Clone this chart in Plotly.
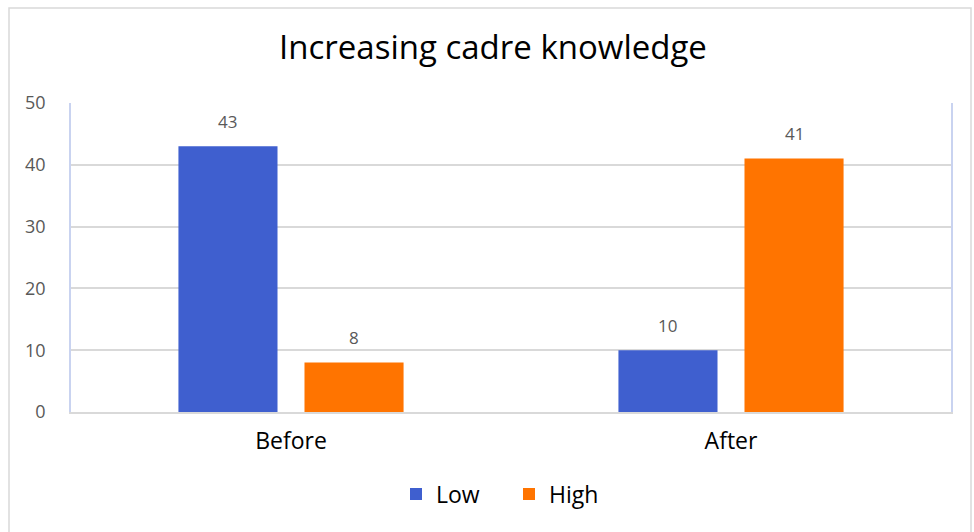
import plotly.graph_objects as go

categories = ["Before", "After"]
low_values = [43, 10]
high_values = [8, 41]
series_names = ["Low", "High"]
y_ticks = [0, 10, 20, 30, 40, 50]

W, H = 974, 532
L, R, T, B = 71, 23, 103, 120
pw, ph = W - L - R, H - T - B

BAR_GAP = 0.427
GROUP_GAP = 0.214
slot_px = pw / len(categories) * (1 - BAR_GAP) / 2

FONT = "Open Sans"

fig = go.Figure()
fig.add_trace(go.Bar(x=categories, y=low_values, name=series_names[0],
                     marker=dict(color="#3F5FCF", line=dict(width=0))))
fig.add_trace(go.Bar(x=categories, y=high_values, name=series_names[1],
                     marker=dict(color="#FF7400", line=dict(width=0))))

# data labels above bars
for offs, vals in ((-0.5, low_values), (0.5, high_values)):
    for c, v in zip(categories, vals):
        fig.add_annotation(x=c, y=v, xref="x", yref="y", text=str(v), showarrow=False,
                           xshift=offs * slot_px, yshift=25, yanchor="middle",
                           font=dict(family=FONT, size=17, color="#595959"))

def px_x(p):
    return (p - L) / pw

def px_y(p):
    return (H - B - p) / ph

fig.add_shape(type="rect", xref="paper", yref="paper",
              x0=px_x(9), x1=px_x(971), y0=px_y(545), y1=px_y(8),
              line=dict(color="#D9D9D9", width=1.5), layer="below")

fig.update_layout(
    width=W, height=H,
    margin=dict(l=L, r=R, t=T, b=B),
    paper_bgcolor="white", plot_bgcolor="white",
    barmode="group", bargap=BAR_GAP, bargroupgap=GROUP_GAP,
    title=dict(text="Increasing cadre knowledge", x=493 / W, xref="container", xanchor="center",
               y=1 - 47 / H, yanchor="middle",
               font=dict(family=FONT, size=33, color="#000000")),
    legend=dict(orientation="h", x=px_x(509), xanchor="center", y=px_y(494), yanchor="middle",
                font=dict(family=FONT, size=23, color="#000000"),
                entrywidth=68, traceorder="normal"),
    xaxis=dict(showgrid=False, showline=True, linecolor="#D9D9D9", linewidth=1.5,
               ticks="", ticklabelstandoff=8,
               tickfont=dict(family=FONT, size=23, color="#000000")),
    yaxis=dict(range=[0, 50], tickvals=y_ticks, showgrid=True, gridcolor="#D9D9D9",
               gridwidth=1.5, showline=True, linecolor="#C9D3F0", linewidth=1.5, mirror=True,
               ticks="", ticklen=0, zeroline=False, ticklabelstandoff=20,
               tickfont=dict(family=FONT, size=18, color="#595959")),
)

fig.write_html("out.html")
